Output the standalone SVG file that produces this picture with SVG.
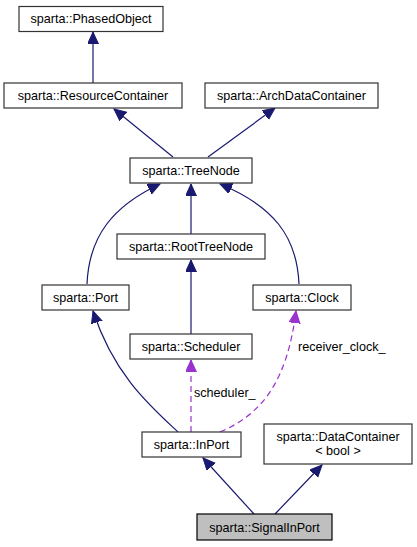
<svg xmlns="http://www.w3.org/2000/svg" width="417" height="547" viewBox="0 0 417 547">
<style>
.n rect{fill:#fff;stroke:#333;stroke-width:1.2}
.n text{font-family:"Liberation Sans",Arial,sans-serif;font-size:12.6px;text-anchor:middle;fill:#000}
.e{fill:none;stroke:#191970;stroke-width:1.2}
.d{fill:none;stroke:#9a32cd;stroke-width:1.2;stroke-dasharray:6,4}
.lbl{font-family:"Liberation Sans",Arial,sans-serif;font-size:12.6px;fill:#000}
</style>
<defs>
<marker id="ab" markerUnits="userSpaceOnUse" markerWidth="14" markerHeight="12" refX="12" refY="5.5" orient="auto"><path d="M0,0 L12,5.5 L0,11 z" fill="#191970" stroke="#191970"/></marker>
<marker id="ap" markerUnits="userSpaceOnUse" markerWidth="14" markerHeight="12" refX="12" refY="5.5" orient="auto"><path d="M0,0 L12,5.5 L0,11 z" fill="#9a32cd" stroke="#9a32cd"/></marker>
</defs>
<g id="connectors">
<path class="e" d="M93,83 L93,32" marker-end="url(#ab)"/>
<path class="e" d="M173,157 L114,109" marker-end="url(#ab)"/>
<path class="e" d="M208,157 L275,108" marker-end="url(#ab)"/>
<path class="e" d="M191,234 L191,184" marker-end="url(#ab)"/>
<path class="e" d="M87,284 C89,236 113,206 160,184" marker-end="url(#ab)"/>
<path class="e" d="M299,284 C297,236 273,206 220,184" marker-end="url(#ab)"/>
<path class="e" d="M191,334 L191,260" marker-end="url(#ab)"/>
<path class="e" d="M178,432 C150,406 114,375 93,311" marker-end="url(#ab)"/>
<path class="d" d="M191,432 L191,360" marker-end="url(#ap)"/>
<path class="d" d="M220,432 C262,414 287,382 296,311" marker-end="url(#ap)"/>
<path class="e" d="M254,514 L203,458" marker-end="url(#ab)"/>
<path class="e" d="M275,514 L322,465" marker-end="url(#ab)"/>
<text class="lbl" x="194" y="397">scheduler_</text>
<text class="lbl" x="298" y="351">receiver_clock_</text>
</g>
<g id="PhasedObject" class="n"><rect x="19" y="6.5" width="144" height="25"/><text x="91" y="23">sparta::PhasedObject</text></g>
<g id="ResourceContainer" class="n"><rect x="4" y="83" width="178" height="25"/><text x="93" y="100">sparta::ResourceContainer</text></g>
<g id="ArchDataContainer" class="n"><rect x="205" y="83" width="173" height="25"/><text x="291.5" y="100">sparta::ArchDataContainer</text></g>
<g id="TreeNode" class="n"><rect x="130" y="158" width="122" height="25"/><text x="191" y="175">sparta::TreeNode</text></g>
<g id="RootTreeNode" class="n"><rect x="117" y="234" width="148" height="25"/><text x="191" y="251">sparta::RootTreeNode</text></g>
<g id="Port" class="n"><rect x="42" y="285" width="87" height="25"/><text x="85.5" y="302">sparta::Port</text></g>
<g id="Clock" class="n"><rect x="253" y="285" width="98" height="25"/><text x="302" y="302">sparta::Clock</text></g>
<g id="Scheduler" class="n"><rect x="130" y="334" width="122" height="25"/><text x="191" y="351">sparta::Scheduler</text></g>
<g id="InPort" class="n"><rect x="142" y="432" width="99" height="25"/><text x="191.5" y="449">sparta::InPort</text></g>
<g id="DataContainer" class="n"><rect x="264" y="424" width="148" height="40"/><text x="338" y="441">sparta::DataContainer</text><text x="338" y="455">&lt; bool &gt;</text></g>
<g id="SignalInPort" class="n"><rect x="197" y="514" width="135" height="26" style="fill:#bfbfbf;stroke:#000"/><text x="264.5" y="532">sparta::SignalInPort</text></g>
</svg>
